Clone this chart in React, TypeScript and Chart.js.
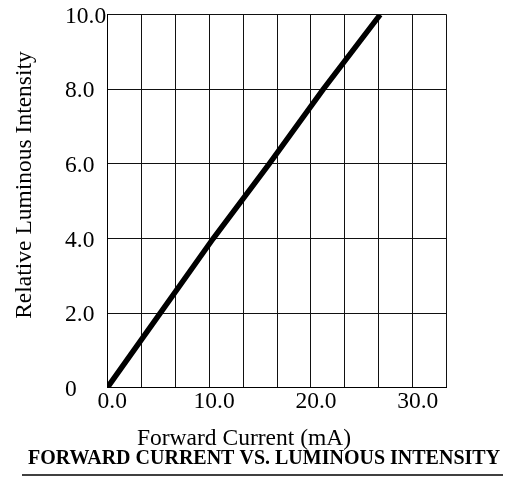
import React, { useEffect, useRef } from "react";
import { Chart, registerables } from "chart.js";

Chart.register(...registerables);

// Data
const forwardCurrent = [0, 5.2, 10.4, 15.9, 21.2, 26.8];
const relativeIntensity = [0, 2, 4, 6, 8, 10];

// Axis grid / tick definitions
const xGridValues = [0, 3.333, 6.667, 10, 13.333, 16.667, 20, 23.333, 26.667, 30, 33.333];
const xTickLabels = ["0.0", "", "", "10.0", "", "", "20.0", "", "", "30.0", ""];
const yTickValues = [0, 2, 4, 6, 8, 10];
const yTickLabels = ["0", "2.0", "4.0", "6.0", "8.0", "10.0"];

const xTitle = "Forward Current (mA)";
const yTitle = "Relative Luminous Intensity";
const chartTitle = "FORWARD CURRENT VS. LUMINOUS INTENSITY";

const SERIF = "'Liberation Serif', 'Times New Roman', serif";

const textPlugin = {
  id: "serifTitles",
  afterDraw(chart: any) {
    const ctx = chart.ctx as CanvasRenderingContext2D;
    ctx.save();
    ctx.fillStyle = "#000";
    ctx.textAlign = "center";
    ctx.textBaseline = "middle";
    ctx.font = `23.5px ${SERIF}`;
    // y title
    ctx.save();
    ctx.translate(25, 185);
    ctx.rotate(-Math.PI / 2);
    ctx.fillText(yTitle, 0, 0);
    ctx.restore();
    // x title
    ctx.fillText(xTitle, 244, 439);
    // chart title (bold, underlined)
    ctx.font = `bold 20px ${SERIF}`;
    ctx.fillText(chartTitle, 264, 459);
    ctx.strokeStyle = "#000";
    ctx.lineWidth = 1.5;
    ctx.beginPath();
    ctx.moveTo(22, 475);
    ctx.lineTo(503, 475);
    ctx.stroke();
    ctx.restore();
  },
};

export default function App() {
  const canvasRef = useRef<HTMLCanvasElement | null>(null);

  useEffect(() => {
    if (!canvasRef.current) return;
    const chart = new Chart(canvasRef.current, {
      type: "line",
      data: {
        datasets: [
          {
            data: forwardCurrent.map((x, i) => ({ x, y: relativeIntensity[i] })),
            borderColor: "#000",
            borderWidth: 5.5,
            pointRadius: 0,
            tension: 0,
            borderCapStyle: "butt",
            fill: false,
          },
        ],
      },
      options: {
        responsive: false,
        animation: false,
        layout: { padding: { left: 65, top: 14.7, right: 58.3, bottom: 0 } },
        plugins: {
          legend: { display: false },
          tooltip: { enabled: false },
          title: { display: false },
        },
        scales: {
          x: {
            type: "linear",
            min: 0,
            max: 33.333,
            afterFit: (scale: any) => {
              scale.height = 89.3;
            },
            afterBuildTicks: (scale: any) => {
              scale.ticks = xGridValues.map((v) => ({ value: v }));
            },
            ticks: {
              autoSkip: false,
              maxRotation: 0,
              padding: 0,
              labelOffset: 5,
              color: "#000",
              font: { family: SERIF, size: 23.5 },
              callback: (_v: any, i: number) => xTickLabels[i] ?? "",
            },
            grid: { color: "#111", lineWidth: 1, drawTicks: false },
            border: { color: "#000", width: 1 },
          },
          y: {
            type: "linear",
            min: 0,
            max: 10,
            afterFit: (scale: any) => {
              scale.width = 42.3;
            },
            afterBuildTicks: (scale: any) => {
              scale.ticks = yTickValues.map((v) => ({ value: v }));
            },
            ticks: {
              autoSkip: false,
              crossAlign: "far",
              padding: 0,
              labelOffset: 2,
              color: "#000",
              font: { family: SERIF, size: 23.5 },
              callback: (_v: any, i: number) => yTickLabels[i] ?? "",
            },
            grid: { color: "#111", lineWidth: 1, drawTicks: false },
            border: { color: "#000", width: 1 },
          },
        },
      },
      plugins: [textPlugin],
    });
    return () => chart.destroy();
  }, []);

  return (
    <div style={{ position: "fixed", left: 0, top: 0, width: 505, height: 477, background: "#fff" }}>
      <canvas ref={canvasRef} width={505} height={477} style={{ display: "block" }} />
    </div>
  );
}
